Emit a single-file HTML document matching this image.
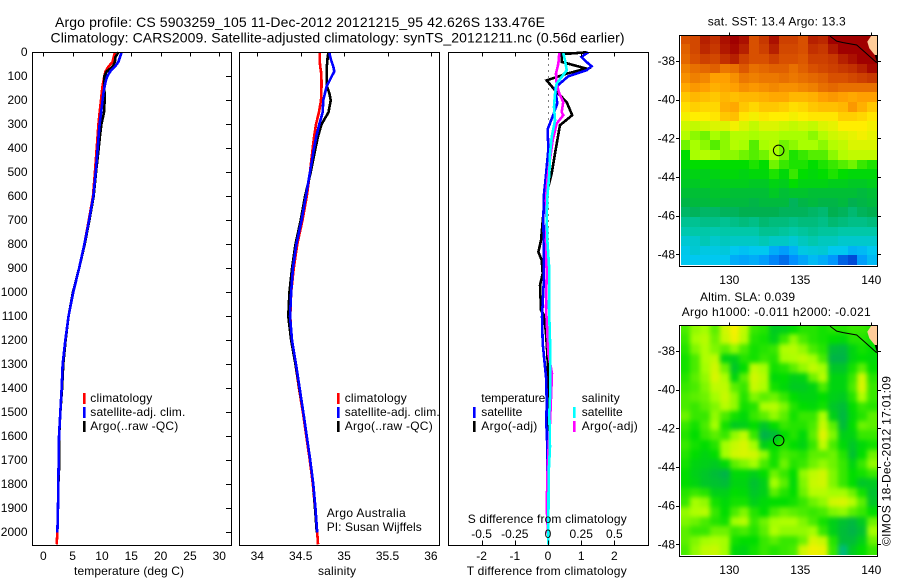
<!DOCTYPE html>
<html>
<head>
<meta charset="utf-8">
<title>Argo profile</title>
<style>
html,body{margin:0;padding:0;background:#fff;}
svg{display:block;}
text{font-family:"Liberation Sans",sans-serif;font-size:12px;fill:#000;}
.title{font-size:14px;}
</style>
</head>
<body>
<svg id="chart" xmlns="http://www.w3.org/2000/svg" width="900" height="580" viewBox="0 0 900 580">
  <defs>
    <filter id="slaSmooth" filterUnits="userSpaceOnUse" x="660" y="305" width="240" height="275" color-interpolation-filters="sRGB">
      <feGaussianBlur stdDeviation="2.5"/>
    </filter>
    <clipPath id="sstClip"><rect x="681" y="35" width="196" height="230"/></clipPath>
    <clipPath id="slaClip"><rect x="681" y="325" width="196" height="230"/></clipPath>
  </defs>
  <rect x="0" y="0" width="900" height="580" fill="#fff"/>
  <text class="title" x="55" y="27" textLength="490" lengthAdjust="spacing">Argo profile: CS 5903259_105 11-Dec-2012 20121215_95 42.626S 133.476E</text>
  <text class="title" x="50.5" y="42.5" textLength="574" lengthAdjust="spacing">Climatology: CARS2009. Satellite-adjusted climatology: synTS_20121211.nc (0.56d earlier)</text>

  <g id="panelT"></g>
  <g id="panelS"></g>
  <g id="panelD"></g>
  <g id="mapSST"></g>
  <g id="mapSLA"></g>

  <text x="74" y="575" textLength="110" lengthAdjust="spacing">temperature (deg C)</text>
  <text x="318" y="575" textLength="38" lengthAdjust="spacing">salinity</text>
  <text x="466.7" y="575" textLength="160" lengthAdjust="spacing">T difference from climatology</text>
  <text x="467.7" y="523" textLength="159" lengthAdjust="spacing">S difference from climatology</text>

  <g>
    <rect x="83" y="393" width="2.6" height="11" fill="#f00"/>
    <text x="90.3" y="402" textLength="62" lengthAdjust="spacing">climatology</text>
    <rect x="83" y="407" width="2.6" height="11" fill="#00f"/>
    <text x="90.3" y="416" textLength="95" lengthAdjust="spacing">satellite-adj. clim.</text>
    <rect x="83" y="421" width="2.6" height="11" fill="#000"/>
    <text x="90.3" y="430" textLength="88" lengthAdjust="spacing">Argo(..raw -QC)</text>
  </g>
  <g>
    <rect x="337" y="393" width="2.6" height="11" fill="#f00"/>
    <text x="344.7" y="402" textLength="62" lengthAdjust="spacing">climatology</text>
    <rect x="337" y="407" width="2.6" height="11" fill="#00f"/>
    <text x="344.7" y="416" textLength="95" lengthAdjust="spacing">satellite-adj. clim.</text>
    <rect x="337" y="421" width="2.6" height="11" fill="#000"/>
    <text x="344.7" y="430" textLength="88" lengthAdjust="spacing">Argo(..raw -QC)</text>
  </g>
  <g>
    <text x="481.3" y="402" textLength="64" lengthAdjust="spacing">temperature</text>
    <rect x="473" y="407" width="2.6" height="11" fill="#00f"/>
    <text x="481.3" y="416" textLength="41" lengthAdjust="spacing">satellite</text>
    <rect x="473" y="421" width="2.6" height="11" fill="#000"/>
    <text x="481.3" y="430" textLength="56" lengthAdjust="spacing">Argo(-adj)</text>
    <text x="581.7" y="402" textLength="38" lengthAdjust="spacing">salinity</text>
    <rect x="573" y="407" width="2.6" height="11" fill="#0ff"/>
    <text x="581.7" y="416" textLength="41" lengthAdjust="spacing">satellite</text>
    <rect x="573" y="421" width="2.6" height="11" fill="#f0f"/>
    <text x="581.7" y="430" textLength="56" lengthAdjust="spacing">Argo(-adj)</text>
  </g>

  <text x="326.7" y="517" textLength="79" lengthAdjust="spacing">Argo Australia</text>
  <text x="326.7" y="531" textLength="95" lengthAdjust="spacing">PI: Susan Wijffels</text>

  <text x="707.7" y="25.5" textLength="138" lengthAdjust="spacing">sat. SST: 13.4  Argo: 13.3</text>
  <text x="700" y="301" textLength="95" lengthAdjust="spacing">Altim. SLA: 0.039</text>
  <text x="681.7" y="316" textLength="189" lengthAdjust="spacing">Argo h1000: -0.011  h2000: -0.021</text>
  <text transform="translate(890.7,546) rotate(-90)" x="0" y="0" textLength="170" lengthAdjust="spacing">©IMOS 18-Dec-2012 17:01:09</text>
</svg>

<script>
// ---------- profile data ----------
const depths = [0,20,40,60,80,100,120,140,170,200,250,300,350,400,500,600,700,800,900,1000,1100,1200,1300,1400,1500,1600,1700,1800,1900,2000,2050];
const tempClim = [12.2,12.0,11.8,11.1,10.6,10.4,10.25,10.1,9.95,9.83,9.6,9.4,9.25,9.1,8.8,8.47,7.75,7.0,6.1,5.1,4.3,3.75,3.3,3.13,2.9,2.68,2.62,2.56,2.5,2.4,2.28];
const tempSat = [13.36,13.07,12.8,12.2,11.4,10.9,10.65,10.46,10.25,10.1,9.85,9.6,9.42,9.27,8.93,8.53,7.8,7.0,6.1,5.1,4.3,3.75,3.3,3.13,2.9,2.68,2.62,2.56,2.5,2.4];
const tempArgo = [12.8,12.3,12.2,11.8,10.8,10.4,10.4,10.4,10.43,10.46,10.35,9.9,9.65,9.44,8.98,8.58,7.85,7.05,6.1,5.05,4.3,3.8,3.4,3.2,2.9,2.7,2.75,2.56,2.5,2.4];
const salClim = [34.72,34.72,34.72,34.725,34.734,34.737,34.74,34.74,34.737,34.734,34.71,34.676,34.655,34.638,34.607,34.57,34.52,34.46,34.42,34.39,34.38,34.395,34.44,34.48,34.525,34.565,34.605,34.64,34.665,34.69,34.7];
const salSat = [34.83,34.84,34.857,34.876,34.887,34.857,34.83,34.8,34.78,34.76,34.753,34.714,34.68,34.653,34.607,34.56,34.51,34.45,34.41,34.39,34.377,34.40,34.446,34.488,34.53,34.57,34.61,34.645,34.67,34.69];
const salArgo = [34.82,34.81,34.807,34.8,34.8,34.8,34.8,34.8,34.83,34.846,34.82,34.74,34.7,34.67,34.615,34.55,34.5,34.44,34.4,34.37,34.357,34.39,34.44,34.485,34.53,34.57,34.61,34.645,34.665,34.685];

const tDiffSatDepths = [0,19,40,58,75,100,124,150,175,212,260,320,405,510,590,690,783,852,963,1102,1213,1283,1366,1464,1547,1644,2000];
const tDiffSat = [1.21,1.01,1.16,1.31,1.16,0.61,0.41,0.21,0.24,0.28,0.16,-0.01,0.01,-0.06,-0.12,-0.14,-0.13,-0.12,-0.13,-0.18,-0.16,-0.11,-0.05,-0.04,-0.05,-0.02,-0.01];
const tDiffArgoDepths = [0,8,40,68,89,117,158,207,262,304,422,505,589,672,783,832,866,922,970,1075,1095,1172,1255,1366,2000];
const tDiffArgo = [1.16,0.41,0.41,1.16,0.56,-0.04,0.21,0.56,0.73,0.36,0.21,0.11,-0.04,-0.14,-0.21,-0.29,-0.19,-0.16,-0.24,-0.21,-0.12,-0.06,-0.02,0.01,-0.01];
const sDiffSatDepths = [3,33,75,103,131,172,228,283,353,422,505,603,686,783,908,1061,1255,1408,1505,1644,1755,2005,2050];
const sDiffSat = [0.115,0.128,0.141,0.103,0.065,0.053,0.045,0.053,0.028,0.015,0.01,-0.005,-0.01,-0.005,0.01,0.0075,0.018,0.018,0.01,0.015,0.005,0.0025,0.0025];
const sDiffArgoDepths = [3,47,89,131,172,207,249,262,297,367,464,533,617,700,783,922,1061,1255,1338,1436,1547,1644,1727,1894,2005];
const sDiffArgo = [0.085,0.078,0.06,0.065,0.085,0.115,0.103,0.115,0.065,0.035,0.01,-0.005,-0.015,-0.01,-0.015,-0.01,-0.015,0.0025,0.03,0.023,0.015,0.005,-0.0025,-0.01,0];

const depthTicks = [0,100,200,300,400,500,600,700,800,900,1000,1100,1200,1300,1400,1500,1600,1700,1800,1900,2000];
const tempTicks = [0,5,10,15,20,25,30];
const salTicks = [34,34.5,35,35.5,36];
const salTickLabels = ["34","34.5","35","35.5","36"];
const tDiffTicks = [-2,-1,0,1,2];
const tDiffTickLabels = ["-2","-1","0","1","2"];
const sDiffTicks = [-0.5,-0.25,0,0.25,0.5];
const sDiffTickLabels = ["-0.5","-0.25","0","0.25","0.5"];
const lonTicks = [130,135,140];
const latTicks = [38,40,42,44,46,48];

// ---------- map data ----------
const argoLon = 133.476;
const argoLat = 42.626;
const coastLon = [137.09,137.56,138.03,138.97,139.44,140.03,140.38];
const coastLat = [36.71,36.97,37.05,37.17,37.47,37.86,38.09];
const landLon = [140.03,139.72,139.86,140.25,140.4,140.4];
const landLat = [36.66,37.0,37.34,37.69,37.69,36.66];
const rockLon = [140.25,140.4,140.4];
const rockLat = [37.69,37.69,38.09];

// sea surface temperature, deg C, rows north to south
const sstGrid = [
[16,16.1,16.6,16.4,16.8,17,16.8,16,16.3,16.8,16.2,16.2,16,16.6,16.5,17,17,17,17,17],
[15.8,16.1,16.5,16.3,16.7,16.9,16.6,16,16.2,16.6,16.1,16.1,16,16.4,16.3,16.7,17,17,17,17],
[15.7,16,16.2,16.1,16.4,16.6,16.2,16,16,16.2,16,16,15.9,16.2,16.2,16.3,16.6,16.8,17,17],
[15.4,15.6,15.7,15.8,15.5,15.6,15.9,15.6,15.7,15.8,15.8,15.6,15.8,16,16.1,16.2,16.3,16.4,16.6,16.9],
[15.2,15.4,15.3,15,15,15.2,15.5,15.4,15.5,15.5,15.6,15.5,15.6,15.7,15.8,16,16,16.1,16.2,16.3],
[14.9,15.1,15,14.8,14.9,15,15.2,15.1,15.2,15.3,15.2,15.2,15.3,15.4,15.6,15.7,15.6,15.6,15.6,15.6],
[14.5,14.7,14.6,14.5,14.7,14.6,14.7,14.7,14.8,14.9,14.9,14.7,14.7,14.8,15,15.1,15,14.9,15,15],
[14.2,14.4,14.3,14.3,14.8,14.9,14.5,14.3,14.5,14.5,14.4,14.2,14.3,14.5,14.6,14.6,14.7,15.1,14.8,14.5],
[13.9,14,14,14.1,14.5,14.6,14.1,13.9,14.1,14,14,13.9,14,14.1,14.1,14.1,14.4,14.4,14.3,14.1],
[13.6,13.5,13.6,13.7,13.7,13.9,13.7,13.5,13.7,13.7,13.6,13.5,13.6,13.5,13.7,13.8,14,14,14,13.9],
[13.4,13.2,13.1,13.3,13.2,13.4,13.4,13.3,13.4,13.4,13.3,13.3,13.3,13.2,13.4,13.6,13.7,13.8,13.9,13.8],
[13.1,13.3,13.2,13,13.2,13.4,13.3,13,13.3,13.4,13.1,13.2,13.3,13.3,13.2,13.4,13.5,13.7,13.7,13.7],
[12.7,13.3,13.4,13.3,13.2,13.2,13.1,13,13.1,13.3,13.1,12.8,12.9,13,13,13.2,13.4,13.5,13.5,13.5],
[12.6,12.7,12.7,12.7,12.7,12.7,12.7,12.8,12.7,13.1,12.9,12.8,12.8,12.7,12.8,12.9,13,13.1,12.9,12.8],
[12.4,12.5,12.4,12.5,12.6,12.6,12.5,12.6,12.6,12.8,12.6,12.9,12.7,12.6,12.7,12.8,12.7,12.6,12.6,12.6],
[12.3,12.3,12.4,12.3,12.4,12.4,12.4,12.3,12.3,12.5,12.4,12.7,12.5,12.5,12.5,12.4,12.4,12.3,12.3,12.4],
[12.1,12.1,12.1,12.2,12.2,12.1,12.1,12.1,12.1,12.3,12.1,12.2,12.2,12.1,12.1,12.1,12.1,12.1,12,12.1],
[11.9,12,12,12.1,12,12,12,11.9,12,12,12,11.7,11.9,12,11.9,11.9,12,11.8,11.9,12],
[11.6,11.7,11.6,11.6,11.7,11.7,11.8,11.8,11.8,11.8,11.7,11.7,11.7,11.6,11.5,11.8,11.7,11.5,11.7,11.8],
[11.2,11.2,11.3,11.3,11.2,11.3,11.4,11.3,11.5,11.4,11.4,11.3,11.4,11.4,11.3,11.5,11.4,11.3,11.3,11.4],
[10.9,11,11,10.9,11,11,11,11,11.2,11.2,11.1,11,11.1,11.2,11.1,11.1,11,11,11,11],
[10.4,10.5,10.8,10.5,10.7,10.6,10.6,10.6,10.8,10.6,10.6,10.4,10.7,10.9,10.7,10.7,10.5,10.5,10.5,10.5],
[10.1,10.4,10.2,10.2,10.3,10,9.9,10,10,9.6,9.4,9.7,10.2,10.3,10.4,10,10,9.7,9.8,10],
[10,10,10,10,10,9.6,9.5,9.6,9.4,9.1,8.9,9.2,9.5,9.8,9.6,9.3,8.8,8.6,9.4,9.8]
];

// sea level anomaly, cm, rows north to south
const slaGrid = [
[4,8,9,5,14,19,12,3,2,-4,-3,0,2,2,1,2,2,3,3,2],
[3,9,11,6,13,18,11,2,1,-3,3,8,4,2,1,0,-1,2,2,1],
[2,7,10,7,5,8,4,1,2,3,10,11,8,4,2,-7,-8,-2,1,0],
[1,4,10,12,-2,-3,2,1,3,2,9,10,12,9,4,-9,-9,-2,0,-1],
[1,4,9,14,6,-5,0,12,9,1,2,5,8,12,9,-5,-5,1,5,0],
[2,5,8,15,10,-2,5,14,11,-1,0,-3,-2,6,11,-2,-2,3,14,2],
[3,4,7,12,12,5,3,13,10,1,-1,-4,-4,-2,4,-2,-2,4,15,3],
[4,5,6,9,13,8,2,7,5,6,3,0,-2,-2,0,-3,-4,2,10,3],
[4,3,5,7,11,8,1,2,10,11,7,2,0,-1,1,-5,-7,0,3,2],
[6,3,3,8,4,1,-1,3,5,8,5,1,3,3,10,-3,-8,-1,2,5],
[3,1,4,9,1,-4,-3,0,-5,0,3,2,2,4,13,5,-7,0,6,5],
[2,0,3,5,3,8,12,3,-9,-7,0,2,-1,5,16,7,-3,-2,3,3],
[3,1,0,2,9,13,15,9,-3,0,2,0,-2,3,12,4,-1,-5,-1,1],
[2,0,-2,0,9,14,15,14,8,1,4,3,2,5,5,6,2,-6,0,6],
[1,-2,-3,-4,-1,5,7,9,4,1,6,2,3,6,8,6,3,-2,3,8],
[0,-3,-5,-7,-9,-1,-1,-3,0,6,3,0,8,12,14,7,3,0,1,3],
[0,-2,-5,-6,-7,-2,-2,-6,-3,9,5,-1,7,13,14,7,3,0,-5,-4],
[2,3,2,-3,-3,0,-1,-5,-3,5,2,0,6,11,11,9,9,6,1,-6],
[3,9,8,1,-1,1,1,-3,-1,0,0,1,3,6,8,14,15,11,5,-5],
[8,10,11,3,0,4,7,2,0,4,6,5,4,3,4,7,8,5,3,0],
[7,6,4,2,1,9,11,3,6,9,10,10,7,4,1,-3,-6,-8,-4,6],
[5,3,3,6,6,3,4,2,5,10,8,8,8,9,3,-3,-7,-9,-6,9],
[5,7,9,10,9,1,0,0,3,5,3,3,6,15,13,2,-7,-7,-3,6],
[4,8,12,13,9,-1,-2,1,3,2,3,4,14,18,17,3,-14,-4,0,3]
];

// ---------- helpers ----------
const NS = 'http://www.w3.org/2000/svg';

function svgEl(parent, tag, attrs, name) {
  const el = document.createElementNS(NS, tag);
  for (const k in attrs) el.setAttribute(k, attrs[k]);
  
  
  parent.appendChild(el);
  return el;
}
function svgText(parent, x, y, str, anchor, name) {
  const el = svgEl(parent, 'text', {x: x, y: y, 'text-anchor': anchor}, name);
  el.textContent = str;
  return el;
}
function hLine(parent, x1, x2, y, name) {
  svgEl(parent, 'line', {x1: x1, x2: x2, y1: y, y2: y, stroke: '#000', 'stroke-width': 1, 'shape-rendering': 'crispEdges'}, name);
}
function vLine(parent, x, y1, y2, name) {
  svgEl(parent, 'line', {x1: x, x2: x, y1: y1, y2: y2, stroke: '#000', 'stroke-width': 1, 'shape-rendering': 'crispEdges'}, name);
}

// ---------- profile axes ----------
const PLOT_TOP = 52.5;
const PLOT_BOTTOM = 545.5;
function yDepth(d) { return 52.3 + 0.24 * d; }
function xTemp(t) { return 43.3 + 5.867 * t; }
function xSal(s) { return 257.3 + 86.8 * (s - 34); }
function xTDiff(t) { return 548 + 33.2 * t; }
function xSDiff(s) { return 548 + 132.8 * s; }

function drawSeries(parent, xFn, depthArr, valueArr, color, width, name) {
  const pts = [];
  for (let i = 0; i < valueArr.length; i++) {
    pts.push(xFn(valueArr[i]).toFixed(2) + ',' + yDepth(depthArr[i]).toFixed(2));
  }
  svgEl(parent, 'polyline', {points: pts.join(' '), fill: 'none', stroke: color, 'stroke-width': width, 'shape-rendering': 'crispEdges', 'stroke-linejoin': 'miter'}, name);
}
function drawFrame(parent, left, right, name) {
  svgEl(parent, 'rect', {x: left, y: PLOT_TOP, width: right - left, height: PLOT_BOTTOM - PLOT_TOP, fill: 'none', stroke: '#000', 'stroke-width': 1, 'shape-rendering': 'crispEdges'}, name);
}

// temperature panel
const panelT = document.getElementById('panelT');
drawSeries(panelT, xTemp, depths, tempClim, '#f00', 2.6, 'climatology-temperature-line');
drawSeries(panelT, xTemp, depths, tempArgo, '#000', 2.6, 'argo-temperature-line');
drawSeries(panelT, xTemp, depths, tempSat, '#00f', 2.6, 'satellite-temperature-line');
drawFrame(panelT, 32.5, 231.5, 'temperature-plot-frame');
depthTicks.forEach(function (d) {
  const y = Math.round(yDepth(d)) + 0.5;
  hLine(panelT, 226, 231.5, y, 'depth-tick');
  svgText(panelT, 27.5, yDepth(d) + 3.5, String(d), 'end', 'depth-tick-label');
});
tempTicks.forEach(function (t) {
  const x = Math.round(xTemp(t)) + 0.5;
  vLine(panelT, x, PLOT_TOP, PLOT_TOP + 4, 'temperature-tick');
  svgText(panelT, xTemp(t), 560, String(t), 'middle', 'temperature-tick-label');
});

// salinity panel
const panelS = document.getElementById('panelS');
drawSeries(panelS, xSal, depths, salClim, '#f00', 2.6, 'climatology-salinity-line');
drawSeries(panelS, xSal, depths, salArgo, '#000', 2.6, 'argo-salinity-line');
drawSeries(panelS, xSal, depths, salSat, '#00f', 2.6, 'satellite-salinity-line');
drawFrame(panelS, 239.5, 439.5, 'salinity-plot-frame');
salTicks.forEach(function (s, i) {
  const x = Math.round(xSal(s)) + 0.5;
  vLine(panelS, x, PLOT_TOP, PLOT_TOP + 4, 'salinity-tick');
  svgText(panelS, xSal(s), 560, salTickLabels[i], 'middle', 'salinity-tick-label');
});

// difference panel
const panelD = document.getElementById('panelD');
svgEl(panelD, 'line', {x1: 548.5, x2: 548.5, y1: PLOT_TOP, y2: PLOT_BOTTOM, stroke: '#000', 'stroke-width': 1, 'stroke-dasharray': '1 5', 'shape-rendering': 'crispEdges'}, 'zero-reference-line');
drawSeries(panelD, xTDiff, tDiffArgoDepths, tDiffArgo, '#000', 2.6, 't-difference-argo-line');
drawSeries(panelD, xTDiff, tDiffSatDepths, tDiffSat, '#00f', 2.6, 't-difference-satellite-line');
drawSeries(panelD, xSDiff, sDiffArgoDepths, sDiffArgo, '#f0f', 2.6, 's-difference-argo-line');
drawSeries(panelD, xSDiff, sDiffSatDepths, sDiffSat, '#0ff', 2.6, 's-difference-satellite-line');
drawFrame(panelD, 448.5, 648.5, 'difference-plot-frame');
tDiffTicks.forEach(function (t, i) {
  const x = Math.round(xTDiff(t)) + 0.5;
  vLine(panelD, x, PLOT_TOP, PLOT_TOP + 4, 't-difference-tick');
  vLine(panelD, x, PLOT_BOTTOM - 5, PLOT_BOTTOM, 't-difference-tick');
  svgText(panelD, xTDiff(t), 560, tDiffTickLabels[i], 'middle', 't-difference-tick-label');
});
sDiffTicks.forEach(function (s, i) {
  svgText(panelD, xSDiff(s), 538, sDiffTickLabels[i], 'middle', 's-difference-tick-label');
});

// ---------- maps ----------
const LON_W = 126.56, LON_E = 140.4, LAT_N = 36.65, LAT_S = 48.55;
function xLon(lon) { return 729.3 + 14.2 * (lon - 130); }

function sstToScale(v) { return v; }
function slaToScale(v) { return v < 0 ? 12.7 + v * 0.09 : 12.7 + v * 0.065; }
function scaleColor(v) {
  const s = [
    [8.5, 0, 64, 208], [9.2, 0, 144, 255], [10, 0, 200, 240], [11, 0, 200, 168],
    [11.8, 0, 176, 80], [12.7, 0, 221, 0], [13.3, 168, 255, 0], [14, 255, 238, 0],
    [15, 255, 160, 0], [16, 216, 80, 0], [17, 160, 0, 0]
  ];
  if (v <= s[0][0]) return 'rgb(' + s[0][1] + ',' + s[0][2] + ',' + s[0][3] + ')';
  for (let i = 1; i < s.length; i++) {
    if (v <= s[i][0]) {
      const f = (v - s[i - 1][0]) / (s[i][0] - s[i - 1][0]);
      const c = [1, 2, 3].map(function (k) { return Math.round(s[i - 1][k] + f * (s[i][k] - s[i - 1][k])); });
      return 'rgb(' + c.join(',') + ')';
    }
  }
  return 'rgb(160,0,0)';
}

function drawMap(parent, grid, toScale, lat38Y, prefix, clipId, filterId) {
  const yLat = function (lat) { return lat38Y + 19.33 * (lat - 38); };
  const rows = grid.length, cols = grid[0].length;
  const dLon = (LON_E - LON_W) / cols, dLat = (LAT_S - LAT_N) / rows;
  const clipGroup = svgEl(parent, 'g', {'clip-path': 'url(#' + clipId + ')'}, prefix + '-image-clip');
  const cellAttrs = filterId ? {filter: 'url(#' + filterId + ')'} : {};
  const cellGroup = svgEl(clipGroup, 'g', cellAttrs, prefix + '-image');
  for (let r = 0; r < rows; r++) {
    for (let c = 0; c < cols; c++) {
      // outermost cells overhang the clip so any smoothing stays solid at the edges
      const x0 = Math.round(xLon(LON_W + c * dLon)) - (c === 0 ? 12 : 0);
      const x1 = Math.round(xLon(LON_W + (c + 1) * dLon)) + (c === cols - 1 ? 12 : 0);
      const y0 = Math.round(yLat(LAT_N + r * dLat)) - (r === 0 ? 12 : 0);
      const y1 = Math.round(yLat(LAT_N + (r + 1) * dLat)) + (r === rows - 1 ? 12 : 0);
      svgEl(cellGroup, 'rect', {x: x0, y: y0, width: x1 - x0, height: y1 - y0, fill: scaleColor(toScale(grid[r][c])), 'shape-rendering': 'crispEdges'}, prefix + '-cell');
    }
  }
  const poly = function (lons, lats) {
    return lons.map(function (lon, i) { return xLon(lon).toFixed(1) + ',' + yLat(lats[i]).toFixed(1); }).join(' ');
  };
  svgEl(parent, 'polygon', {points: poly(landLon, landLat), fill: '#ffcc99'}, prefix + '-land');
  svgEl(parent, 'polygon', {points: poly(rockLon, rockLat), fill: '#000'}, prefix + '-coast-corner');
  svgEl(parent, 'polyline', {points: poly(coastLon, coastLat), fill: 'none', stroke: '#000', 'stroke-width': 1}, prefix + '-coastline');

  const top = Math.round(yLat(LAT_N)) + 0.5;
  const bottom = Math.round(yLat(LAT_S)) + 1.5;
  svgEl(parent, 'rect', {x: 679.5, y: top, width: 198, height: bottom - top, fill: 'none', stroke: '#000', 'stroke-width': 1, 'shape-rendering': 'crispEdges'}, prefix + '-frame');
  lonTicks.forEach(function (lon) {
    const x = Math.round(xLon(lon)) + 0.5;
    vLine(parent, x, top - 3, top, prefix + '-lon-tick');
    svgText(parent, xLon(lon), bottom + 17.5, String(lon), 'middle', prefix + '-lon-tick-label');
  });
  latTicks.forEach(function (lat) {
    const y = Math.round(yLat(lat)) + 0.5;
    hLine(parent, 676, 679.5, y, prefix + '-lat-tick');
    hLine(parent, 877.5, 881, y, prefix + '-lat-tick');
    svgText(parent, 675, yLat(lat) + 4, '-' + lat, 'end', prefix + '-lat-tick-label');
  });
  svgEl(parent, 'circle', {cx: xLon(argoLon), cy: yLat(argoLat), r: 5.3, fill: 'none', stroke: '#000', 'stroke-width': 1}, prefix + '-argo-location-marker');
}

drawMap(document.getElementById('mapSST'), sstGrid, sstToScale, 61, 'sst', 'sstClip', null);
drawMap(document.getElementById('mapSLA'), slaGrid, slaToScale, 351, 'sla', 'slaClip', 'slaSmooth');
</script>
</body>
</html>
